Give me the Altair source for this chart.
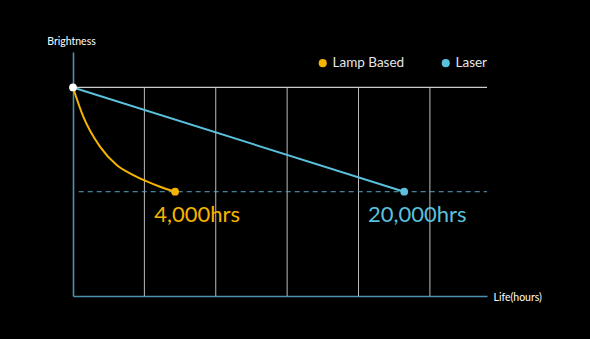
import altair as alt
import pandas as pd

# ---- data (schematic units) ----
series_names = ["Lamp Based", "Laser"]
series_colors = ["#f5b400", "#5bc0dc"]

lamp_x = [0, 0.144, 0.378, 0.612, 0.845, 1.009, 1.219, 1.43]
lamp_y = [100, 86.0, 71.6, 62.8, 58.0, 55.3, 52.4, 50]
laser_x = [0, 4.64]
laser_y = [100, 50]

end_labels = ["4,000hrs", "20,000hrs"]
grid_x = [1, 2, 3, 4, 5]
top_level = 100
half_level = 50
x_max = 5.8
y_max = 117

FONT = "Lato"

lamp_df = pd.DataFrame({"x": lamp_x, "y": lamp_y})
laser_df = pd.DataFrame({"x": laser_x, "y": laser_y})
ends = pd.DataFrame(
    {"x": [lamp_x[-1], laser_x[-1]],
     "y": [lamp_y[-1], laser_y[-1]],
     "series": series_names,
     "label": end_labels}
)
start = pd.DataFrame({"x": [0], "y": [top_level]})
grid = pd.DataFrame({"x": grid_x, "y": [0] * len(grid_x), "y2": [top_level] * len(grid_x)})
hlines = pd.DataFrame({"x": [0], "x2": [x_max], "y": [top_level]})
dashed = pd.DataFrame({"x": [0.08], "x2": [x_max], "y": [half_level]})

xs = alt.Scale(domain=[0, x_max], nice=False, zero=False)
ys = alt.Scale(domain=[0, y_max], nice=False, zero=False)
cs = alt.Scale(domain=series_names, range=series_colors)

x_axis = alt.Axis(ticks=False, labels=False, grid=False, domainColor="#4f8fae", domainWidth=1.6,
                  title="Life(hours)", titleColor="#ffffff", titleFont=FONT, titleFontSize=10.5,
                  titleFontWeight="normal", titleAlign="left", titleBaseline="middle",
                  titleX=420, titleY=1, titleAnchor="start")
y_axis = alt.Axis(ticks=False, labels=False, grid=False, domainColor="#4f8fae", domainWidth=1.6,
                  title="Brightness", titleColor="#ffffff", titleFont=FONT, titleFontSize=10.5,
                  titleFontWeight="normal", titleAngle=0, titleAlign="center", titleBaseline="bottom",
                  titleX=-2, titleY=-6, titleAnchor="end")

axes = alt.Chart(start).mark_point(opacity=0).encode(
    x=alt.X("x:Q", scale=xs, axis=x_axis),
    y=alt.Y("y:Q", scale=ys, axis=y_axis),
)

grid_layer = alt.Chart(grid).mark_rule(color="#bdbdbd", strokeWidth=1).encode(
    x="x:Q", y="y:Q", y2="y2:Q"
)
top_layer = alt.Chart(hlines).mark_rule(color="#cccccc", strokeWidth=1.2).encode(
    x="x:Q", x2="x2:Q", y="y:Q"
)
dash_layer = alt.Chart(dashed).mark_rule(color="#5aa6c8", strokeWidth=1, strokeDash=[5, 4]).encode(
    x="x:Q", x2="x2:Q", y="y:Q"
)
lamp_line = alt.Chart(lamp_df).mark_line(interpolate="monotone", strokeWidth=2, color=series_colors[0]).encode(
    x="x:Q", y="y:Q", order="x:Q"
)
laser_line = alt.Chart(laser_df).mark_line(strokeWidth=2, color=series_colors[1]).encode(
    x="x:Q", y="y:Q", order="x:Q"
)
end_layer = alt.Chart(ends).mark_circle(size=60, opacity=1).encode(
    x="x:Q", y="y:Q",
    color=alt.Color("series:N", scale=cs, legend=alt.Legend(
        title=None, orient="none", direction="horizontal", legendX=243, legendY=4,
        labelColor="#e6e6e6", labelFont=FONT, labelFontSize=13.5, symbolType="circle",
        symbolSize=65, columnPadding=34, labelOffset=3, padding=0)),
)
start_layer = alt.Chart(start).mark_circle(size=60, color="#ffffff", opacity=1).encode(
    x="x:Q", y="y:Q"
)
lamp_text = alt.Chart(ends).transform_filter(alt.datum.series == "Lamp Based").mark_text(
    font=FONT, fontSize=22, dx=22, dy=23, align="center", baseline="middle", color=series_colors[0]
).encode(x="x:Q", y="y:Q", text="label:N")
laser_text = alt.Chart(ends).transform_filter(alt.datum.series == "Laser").mark_text(
    font=FONT, fontSize=22, dx=13, dy=23, align="center", baseline="middle", color=series_colors[1]
).encode(x="x:Q", y="y:Q", text="label:N")

chart = alt.layer(
    axes, grid_layer, top_layer, dash_layer, lamp_line, laser_line, start_layer, end_layer, lamp_text, laser_text
).properties(
    width=414, height=244,
    autosize=alt.AutoSizeParams(type="none"),
    padding={"left": 73, "top": 52, "right": 103, "bottom": 43},
    background="#000000",
).configure_view(stroke=None)

chart.save("out.html", embed_options={"renderer": "svg", "actions": False})
